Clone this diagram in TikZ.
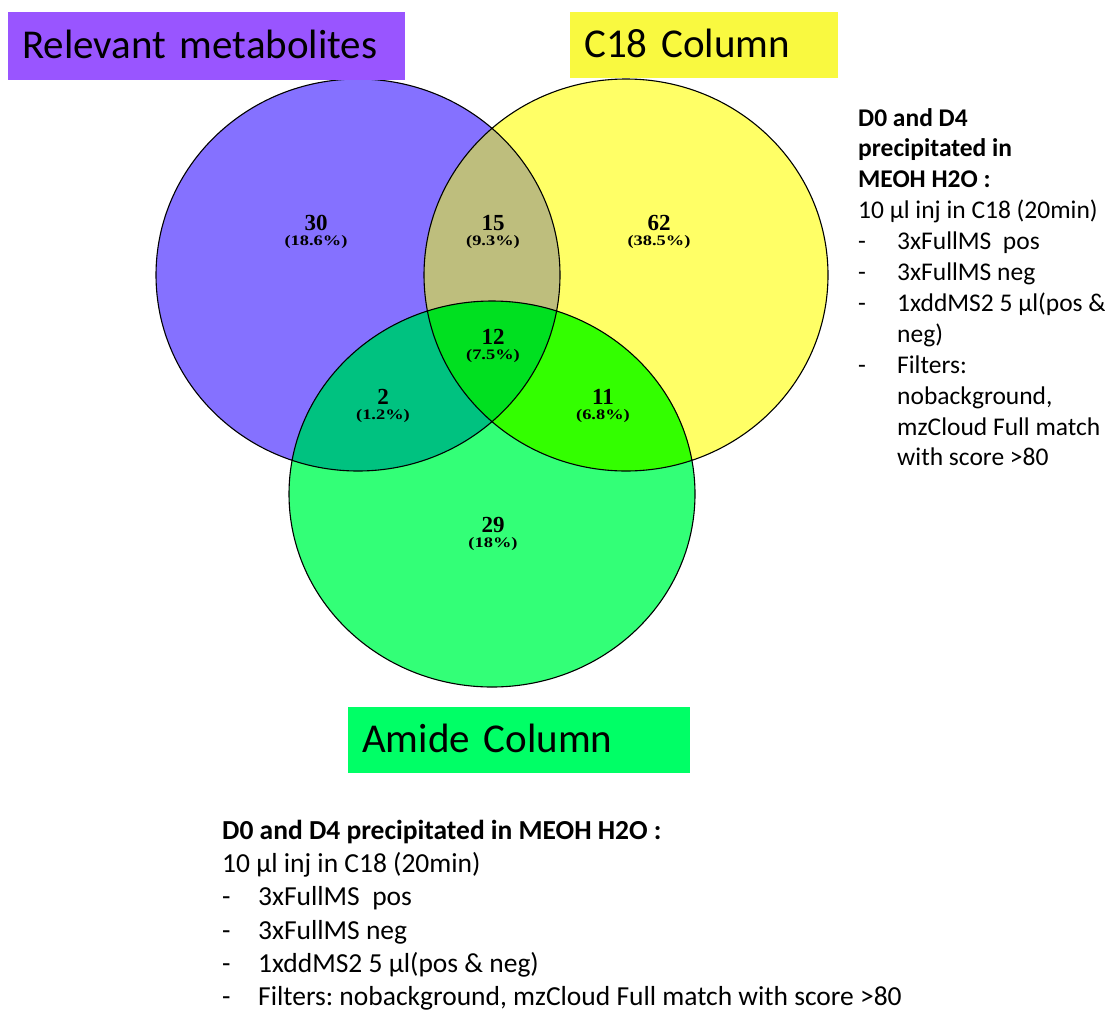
\documentclass[tikz,border=0pt]{standalone}
\usepackage{fontspec}
\setmainfont{Carlito}
\newfontfamily\countfont{Liberation Serif}
\newfontfamily\pctfont[FakeStretch=1.27]{Liberation Serif}
\usetikzlibrary{positioning}

\definecolor{metbox}{HTML}{9955FF}
\definecolor{cbox}{HTML}{F9F940}
\definecolor{amidebox}{HTML}{00FF66}
\definecolor{metfill}{HTML}{8571FF}
\definecolor{cfill}{HTML}{FFFF66}
\definecolor{amidefill}{HTML}{33FF77}
\definecolor{mcfill}{HTML}{BEBE7D}
\definecolor{mafill}{HTML}{00C280}
\definecolor{cafill}{HTML}{33FF00}
\definecolor{allfill}{HTML}{00E020}

\tikzset{
  titlebox/.style={anchor=north west, inner xsep=14pt, inner ysep=0pt, minimum height=68pt,
    text height=25pt, text depth=0pt, align=left, font=\fontsize{41}{49}\selectfont},
  count/.style={inner sep=0pt, font=\countfont\bfseries\fontsize{23}{23}\selectfont},
  pct/.style={inner sep=0pt, font=\pctfont\bfseries\fontsize{14.5}{14.5}\selectfont},
  notes/.style={anchor=north west, inner sep=0pt, align=left},
}
\newcommand{\metpath}{(358,275) ellipse [x radius=202pt, y radius=196pt]}
\newcommand{\cpath}{(626,275) ellipse [x radius=202pt, y radius=196pt]}
\newcommand{\amidepath}{(492,494) ellipse [x radius=203pt, y radius=193pt]}
\newcommand{\dashitem}[2]{\makebox[#1][l]{-}#2}

\begin{document}
\begin{tikzpicture}[x=1pt,y=-1pt]
  \useasboundingbox (0,0) rectangle (1105,1012);
  % circles
  \fill[metfill] \metpath;
  \fill[cfill] \cpath;
  \fill[amidefill] \amidepath;
  \begin{scope}
    \clip \cpath;
    \fill[cafill] \amidepath;
  \end{scope}
  \begin{scope}
    \clip \metpath;
    \fill[mcfill] \cpath;
    \fill[mafill] \amidepath;
    \clip \cpath;
    \fill[allfill] \amidepath;
  \end{scope}
  \draw[line width=1.1pt] \metpath \cpath \amidepath;

  % titles
  \node[titlebox, fill=metbox, text width=369pt] (mettitle) at (8,12) {Relevant metabolites};
  \node[titlebox, fill=cbox, text width=240pt, minimum height=66pt] (ctitle) at (570,12) {C18 Column};
  \node[titlebox, fill=amidebox, text width=314pt, minimum height=66pt] (amidetitle) at (348,707) {Amide Column};

  % counts
  \node[count] (n30) at (316,223) {30};
  \node[pct, below=4pt of n30] {(18.6\%)};
  \node[count] (n15) at (493,223) {15};
  \node[pct, below=4pt of n15] {(9.3\%)};
  \node[count] (n62) at (659,223) {62};
  \node[pct, below=4pt of n62] {(38.5\%)};
  \node[count] (n12) at (493,337) {12};
  \node[pct, below=4pt of n12] {(7.5\%)};
  \node[count] (n2) at (383,397) {2};
  \node[pct, below=4pt of n2] {(1.2\%)};
  \node[count] (n11) at (603,397) {11};
  \node[pct, below=4pt of n11] {(6.8\%)};
  \node[count] (n29) at (493,525) {29};
  \node[pct, below=4pt of n29] {(18\%)};

  % notes
  \node[notes, font=\fontsize{25.5}{30.9}\selectfont] (cnotes) at (858,108)
    {\textbf{D0 and D4}\\ \textbf{precipitated in}\\ \textbf{MEOH H2O :}\\
     10 µl inj in C18 (20min)\\
     \dashitem{39pt}{3xFullMS\ \ pos}\\
     \dashitem{39pt}{3xFullMS neg}\\
     \dashitem{39pt}{1xddMS2 5 µl(pos \&}\\
     \hspace*{39pt}neg)\\
     \dashitem{39pt}{Filters:}\\
     \hspace*{39pt}nobackground,\\
     \hspace*{39pt}mzCloud Full match\\
     \hspace*{39pt}with score >80};
  \node[notes, font=\fontsize{27.5}{33.2}\selectfont] (amidenotes) at (222,820)
    {\textbf{D0 and D4 precipitated in MEOH H2O :}\\
     10 µl inj in C18 (20min)\\
     \dashitem{36pt}{3xFullMS\ \ pos}\\
     \dashitem{36pt}{3xFullMS neg}\\
     \dashitem{36pt}{1xddMS2 5 µl(pos \& neg)}\\
     \dashitem{36pt}{Filters:\ nobackground, mzCloud Full match with score >80}};
\end{tikzpicture}
\end{document}
